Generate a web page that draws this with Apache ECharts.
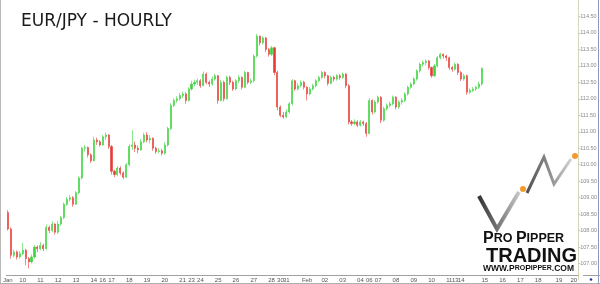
<!DOCTYPE html>
<html>
<head>
<meta charset="utf-8">
<script src="https://cdn.jsdelivr.net/npm/echarts@6/dist/echarts.min.js"></script>
<style>
html,body{margin:0;padding:0;background:#fff;}
#chart{width:600px;height:284px;}
</style>
</head>
<body>
<div id="chart"></div>
<script>
// ---- data ----
const titleText = 'EUR/JPY - HOURLY';
const firstOpen = 108.55;
const closes = [
108.05,107.25,107.35,107.2,107.3,107.4,107.15,107.05,107.2,107.5,
107.45,107.55,107.45,108.1,108.0,108.2,107.95,108.2,108.4,108.8,
108.95,109.0,108.8,109.15,109.6,110.5,110.52,110.3,110.12,110.75,
110.7,110.6,110.85,110.9,110.55,109.8,109.7,109.9,109.75,109.62,
110.0,110.55,110.6,110.5,110.45,110.7,110.9,110.75,110.8,110.5,
110.4,110.42,110.35,110.6,111.1,111.8,111.95,112.0,112.1,112.15,
111.95,112.3,112.45,112.5,112.55,112.4,112.75,112.5,112.45,112.6,
112.7,111.95,112.5,112.0,112.65,112.5,112.3,112.55,112.65,112.35,
112.8,112.5,112.55,113.3,113.9,113.7,113.85,113.5,113.35,113.55,
112.8,111.75,111.5,111.45,111.6,111.85,112.55,112.3,112.4,112.5,
112.35,112.15,112.3,112.4,112.55,112.65,112.8,112.7,112.47,112.65,
112.6,112.7,112.65,112.75,112.4,111.3,111.25,111.3,111.2,111.3,
111.25,110.95,111.95,111.6,111.9,112.05,111.35,111.7,111.8,111.85,
112.05,111.75,111.9,111.95,112.15,112.35,112.45,112.6,112.85,113.05,
113.1,113.15,112.95,112.7,113.0,113.25,113.35,113.3,113.25,112.95,
112.9,113.05,112.8,112.6,112.7,112.2,112.25,112.3,112.35,112.45,
112.92];
const lows = [
108.0,107.15,107.18,107.12,107.15,107.25,106.95,106.85,107.0,107.15,
107.35,107.4,107.38,107.42,107.92,107.95,107.88,107.9,108.15,108.35,
108.75,108.88,108.72,108.78,109.1,109.55,110.4,110.22,110.05,110.1,
110.6,110.55,110.58,110.75,110.48,109.7,109.62,109.65,109.68,109.56,
109.6,109.95,110.45,110.38,110.35,110.42,110.65,110.68,110.65,110.42,
110.33,110.34,110.28,110.3,110.55,111.05,111.75,111.88,111.95,112.02,
111.85,111.92,112.25,112.38,112.42,112.33,112.38,112.44,112.36,112.4,
112.55,111.85,111.92,111.92,111.98,112.42,112.24,112.26,112.48,112.28,
112.32,112.44,112.45,112.5,113.25,113.62,113.65,113.42,113.28,113.3,
112.72,111.65,111.44,111.4,111.42,111.55,111.8,112.24,112.25,112.35,
112.28,111.95,112.1,112.25,112.35,112.5,112.6,112.62,112.4,112.44,
112.52,112.55,112.58,112.6,112.32,111.22,111.18,111.2,111.14,111.16,
111.18,110.85,110.92,111.52,111.56,111.85,111.26,111.3,111.64,111.74,
111.8,111.68,111.7,111.82,111.9,112.1,112.3,112.4,112.55,112.8,
112.98,113.02,112.88,112.64,112.66,112.95,113.2,113.22,113.15,112.88,
112.82,112.86,112.72,112.54,112.55,112.12,112.15,112.2,112.24,112.3,
112.4];
const highs = [
108.62,108.1,107.42,107.4,107.38,107.62,107.45,107.2,107.28,107.56,
107.55,107.65,107.6,108.18,108.15,108.28,108.22,108.3,108.45,108.85,
109.02,109.08,109.05,109.2,109.65,110.55,110.6,110.55,110.35,110.85,
110.82,110.75,110.9,110.98,110.93,110.6,109.85,109.96,109.95,109.8,
110.05,110.62,111.05,110.7,110.58,110.78,110.97,110.99,110.9,110.83,
110.55,110.5,110.48,110.68,111.15,111.87,112.02,112.08,112.18,112.22,
112.2,112.35,112.55,112.58,112.62,112.6,112.83,112.8,112.56,112.68,
112.76,112.72,112.58,112.55,112.7,112.7,112.55,112.6,112.72,112.68,
112.85,112.82,112.62,113.35,113.97,113.92,113.9,113.88,113.55,113.6,
113.58,112.85,111.8,111.6,111.68,111.9,112.6,112.58,112.48,112.56,
112.55,112.38,112.36,112.46,112.6,112.7,112.85,112.84,112.73,112.7,
112.7,112.75,112.75,112.8,112.78,112.45,111.36,111.38,111.35,111.36,
111.34,111.3,112.02,111.98,111.96,112.1,112.08,111.76,111.86,111.92,
112.1,112.08,111.96,112.02,112.2,112.4,112.5,112.66,112.9,113.1,
113.16,113.2,113.18,112.98,113.06,113.3,113.4,113.38,113.34,113.28,
113.0,113.1,113.08,112.84,112.76,112.74,112.32,112.36,112.4,112.52,
112.96];
// x axis: one category per bar slot, day labels at these slots
const slotCount = 193;
const dayLabels = ['Jan','10','11','12','13','14','16','17','18','19','20','21','23','24','25','26','27','28','30','31',
                   'Feb','02','03','04','06','07','08','09','10','11','13','14','15','16','17','18','19','20'];
const dayIdx = [0,5,11,17,23,29,32,35,41,47,53,59,62,65,71,77,83,89,92,94,
                101,107,113,119,122,125,131,137,143,149,151,153,161,167,173,179,186,191];
// y axis
const yMin = 106.5, yMax = 115, yStep = 0.5;

// ---- build ----
const categories = [];
for (let i = 0; i < slotCount; i++) categories.push('s' + i);
const labelAt = {};
dayIdx.forEach((k, j) => { labelAt[k] = dayLabels[j]; });

const candles = closes.map((c, i) => {
  const o = i === 0 ? firstOpen : closes[i - 1];
  return [o, c, lows[i], highs[i]];
});
const lastClose = closes[closes.length - 1];

const UP = '#3bd43b', DOWN = '#e63a36';
const chart = echarts.init(document.getElementById('chart'), null, {renderer: 'canvas'});
chart.setOption({
  animation: false,
  backgroundColor: '#ffffff',
  title: {
    text: titleText, left: 16, top: 8,
    textStyle: {fontFamily: 'DejaVu Sans', fontSize: 17, fontWeight: 'normal', color: '#1a1a1a'}
  },
  grid: {left: 3, top: -9, width: 580, height: 289, show: false},
  xAxis: {
    type: 'category', data: categories, boundaryGap: true, offset: -5,
    axisLine: {show: true, lineStyle: {color: '#a0a0a0', width: 1}},
    axisTick: {show: false},
    splitLine: {show: false},
    axisLabel: {
      interval: (idx) => labelAt[idx] !== undefined,
      formatter: (v, idx) => labelAt[idx] || '',
      fontSize: 6, color: '#555', margin: 2, fontFamily: 'Liberation Sans'
    }
  },
  yAxis: {
    type: 'value', position: 'right', min: yMin, max: yMax, interval: yStep, scale: true,
    axisLine: {show: true, lineStyle: {color: '#d6d6b8', width: 1}},
    axisTick: {show: true, length: 2, lineStyle: {color: '#c8c8a8'}},
    splitLine: {show: false},
    axisLabel: {
      showMinLabel: false, showMaxLabel: false,
      formatter: (v) => v.toFixed(2),
      fontSize: 5.5, color: '#8a8a8a', margin: 2, fontFamily: 'Liberation Sans'
    }
  },
  series: [{
    type: 'candlestick',
    data: candles,
    barWidth: 1.6,
    itemStyle: {color: UP, color0: DOWN, borderColor: UP, borderColor0: DOWN, borderWidth: 0.6},
    markLine: {
      symbol: 'none', silent: true,
      lineStyle: {opacity: 0},
      label: {
        show: true, position: 'end', distance: 1,
        formatter: lastClose.toFixed(2),
        backgroundColor: '#cfd23e', color: '#4a4a20', fontSize: 5.5,
        padding: [2, 1, 1, 1], fontFamily: 'Liberation Sans'
      },
      data: [{yAxis: lastClose}]
    }
  }],
  graphic: [
    // frame lines
    {type: 'line', shape: {x1: 0.5, y1: 0, x2: 0.5, y2: 284}, style: {stroke: '#b8b8b8', lineWidth: 1}},
    {type: 'line', shape: {x1: 0, y1: 283.5, x2: 600, y2: 283.5}, style: {stroke: '#b0b0b0', lineWidth: 1}},
    {type: 'line', shape: {x1: 598.5, y1: 0, x2: 598.5, y2: 284}, style: {stroke: '#8a9ab8', lineWidth: 1}},
    {type: 'line', shape: {x1: 583, y1: 275.5, x2: 600, y2: 275.5}, style: {stroke: '#a0a0a0', lineWidth: 1}},
    {type: 'circle', shape: {cx: 591, cy: 279.5, r: 1.3}, style: {fill: '#2a3a9a'}},
    // logo swoosh
    {type: 'polyline', shape: {points: [[479,196],[497,229],[519,192]]},
     style: {stroke: new echarts.graphic.LinearGradient(0,0,1,0,[{offset:0,color:'#2c2c2c'},{offset:0.5,color:'#7a7a7a'},{offset:1,color:'#d0d0d0'}]), lineWidth: 4, fill: null, lineJoin: 'miter'}},
    {type: 'polyline', shape: {points: [[527,193],[544,157],[554,184],[571,159]]},
     style: {stroke: new echarts.graphic.LinearGradient(0,0,1,0,[{offset:0,color:'#4a4a4a'},{offset:0.6,color:'#9a9a9a'},{offset:1,color:'#dadada'}]), lineWidth: 3, fill: null, lineJoin: 'miter'}},
    {type: 'circle', shape: {cx: 523, cy: 189, r: 3}, style: {fill: '#f39a2e'}},
    {type: 'circle', shape: {cx: 575, cy: 156, r: 3}, style: {fill: '#f39a2e'}},
    // logo texts
    {type: 'text', x: 483, y: 231,
     style: {text: '{a|P}{b|RO }{a|P}{b|IPPER}', rich: {
       a: {fontFamily: 'Liberation Sans', fontWeight: 'bold', fontSize: 16, fill: '#111'},
       b: {fontFamily: 'Liberation Sans', fontWeight: 'bold', fontSize: 12.5, fill: '#111'}}}},
    {type: 'text', x: 486, y: 246,
     style: {text: 'TRADING', fontFamily: 'Liberation Sans', fontWeight: 'bold', fontSize: 20, fill: '#111'}},
    {type: 'text', x: 483, y: 264,
     style: {text: '{a|WWW.P}{b|RO}{a|P}{b|IPPER}{a|.COM}', rich: {
       a: {fontFamily: 'Liberation Sans', fontWeight: 'bold', fontSize: 8.5, fill: '#111'},
       b: {fontFamily: 'Liberation Sans', fontWeight: 'bold', fontSize: 7, fill: '#111'}}}}
  ]
});
</script>
</body>
</html>
